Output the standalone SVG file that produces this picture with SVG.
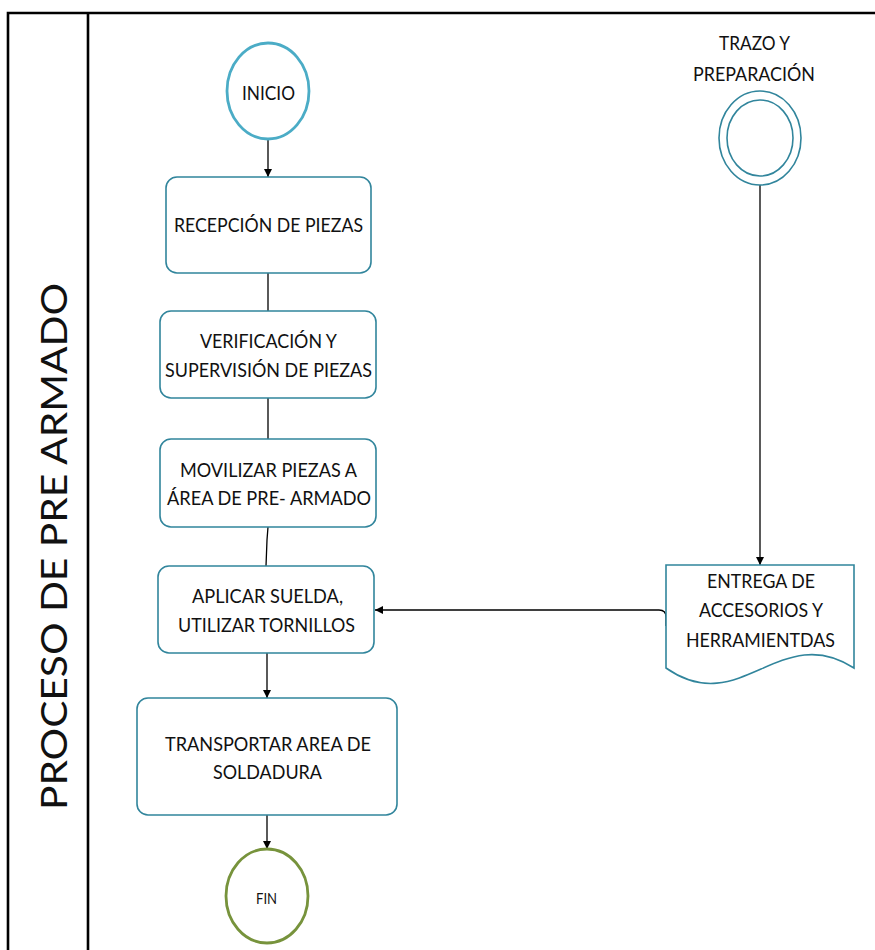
<svg xmlns="http://www.w3.org/2000/svg" width="875" height="950" viewBox="0 0 875 950">
  <style>
    .frame { fill: none; stroke: #000; stroke-width: 2.6; }
    .proc { fill: #fff; stroke: #31859C; stroke-width: 1.6; }
    .lbl { font-family: Lato, "Open Sans", "Liberation Sans", sans-serif; font-size: 20px; fill: #111; text-anchor: middle; }
    .title { font-family: Lato, "Open Sans", "Liberation Sans", sans-serif; font-size: 37px; fill: #111; text-anchor: middle; }
    .conn { fill: none; stroke: #000; stroke-width: 1.3; }
  </style>
  <defs>
    <marker id="arrow" viewBox="0 0 10 10" refX="10" refY="5" markerWidth="8" markerHeight="8" markerUnits="userSpaceOnUse" orient="auto">
      <path d="M0,0 L10,5 L0,10 Z" fill="#000"/>
    </marker>
  </defs>

  <rect width="875" height="950" fill="#fff"/>

  <!-- Swimlane frame -->
  <g id="lane">
    <path class="frame" d="M8,950 V13 H875"/>
    <line class="frame" x1="88" y1="13" x2="88" y2="950"/>
    <text class="title" transform="translate(67,546.5) rotate(-90)" textLength="527" lengthAdjust="spacingAndGlyphs">PROCESO DE PRE ARMADO</text>
  </g>

  <!-- Connectors -->
  <g id="connectors">
    <line class="conn" x1="268" y1="139" x2="268" y2="177" marker-end="url(#arrow)"/>
    <line class="conn" x1="268" y1="273" x2="268" y2="311"/>
    <line class="conn" x1="268" y1="398" x2="268" y2="439"/>
    <path class="conn" d="M268,527 L267,540 L266,566"/>
    <line class="conn" x1="267" y1="653" x2="267" y2="698" marker-end="url(#arrow)"/>
    <line class="conn" x1="267" y1="815" x2="267" y2="849" marker-end="url(#arrow)"/>
    <line class="conn" x1="760" y1="185" x2="760" y2="565" marker-end="url(#arrow)"/>
    <path class="conn" d="M666,626 V617 Q666,610 659,610 H375" marker-end="url(#arrow)"/>
  </g>

  <!-- Nodes -->
  <g id="inicio">
    <ellipse cx="268" cy="91" rx="41" ry="48" fill="#fff" stroke="#4BACC6" stroke-width="2.8"/>
    <text class="lbl" x="268.5" y="100" textLength="53" lengthAdjust="spacingAndGlyphs">INICIO</text>
  </g>

  <g id="recepcion">
    <rect class="proc" x="166" y="177" width="205" height="96" rx="11"/>
    <text class="lbl" x="268.5" y="232" textLength="189" lengthAdjust="spacingAndGlyphs">RECEPCIÓN DE PIEZAS</text>
  </g>

  <g id="verificacion">
    <rect class="proc" x="160" y="311" width="216" height="87" rx="11"/>
    <text class="lbl" x="268.5" y="348" textLength="137" lengthAdjust="spacingAndGlyphs">VERIFICACIÓN Y</text>
    <text class="lbl" x="268.5" y="377" textLength="207" lengthAdjust="spacingAndGlyphs">SUPERVISIÓN DE PIEZAS</text>
  </g>

  <g id="movilizar">
    <rect class="proc" x="160" y="439" width="216" height="88" rx="11"/>
    <text class="lbl" x="268.5" y="477" textLength="177" lengthAdjust="spacingAndGlyphs">MOVILIZAR PIEZAS A</text>
    <text class="lbl" x="269" y="505" textLength="204" lengthAdjust="spacingAndGlyphs">ÁREA DE PRE- ARMADO</text>
  </g>

  <g id="aplicar">
    <rect class="proc" x="158" y="566" width="216" height="87" rx="11"/>
    <text class="lbl" x="267.5" y="603" textLength="151" lengthAdjust="spacingAndGlyphs">APLICAR SUELDA,</text>
    <text class="lbl" x="266.5" y="632" textLength="177" lengthAdjust="spacingAndGlyphs">UTILIZAR TORNILLOS</text>
  </g>

  <g id="transportar">
    <rect class="proc" x="137" y="698" width="260" height="117" rx="11"/>
    <text class="lbl" x="268" y="751" textLength="206" lengthAdjust="spacingAndGlyphs">TRANSPORTAR AREA DE</text>
    <text class="lbl" x="267.5" y="779" textLength="109" lengthAdjust="spacingAndGlyphs">SOLDADURA</text>
  </g>

  <g id="fin">
    <ellipse cx="267" cy="896" rx="41" ry="47" fill="#fff" stroke="#77933C" stroke-width="2.8"/>
    <text class="lbl" x="266.5" y="904" style="font-size:16px" textLength="21" lengthAdjust="spacingAndGlyphs">FIN</text>
  </g>

  <g id="trazo">
    <text class="lbl" x="754.5" y="50" textLength="71" lengthAdjust="spacingAndGlyphs">TRAZO Y</text>
    <text class="lbl" x="754" y="81" textLength="122" lengthAdjust="spacingAndGlyphs">PREPARACIÓN</text>
    <ellipse cx="760" cy="138" rx="41" ry="47" fill="#fff" stroke="#31859C" stroke-width="1.6"/>
    <ellipse cx="760" cy="138" rx="33" ry="38" fill="none" stroke="#31859C" stroke-width="1.6"/>
  </g>

  <g id="entrega">
    <path d="M666,565 H854 V668 C780,620 740,720 666,668 Z" fill="#fff" stroke="#31859C" stroke-width="1.6"/>
    <text class="lbl" x="761" y="588" textLength="108" lengthAdjust="spacingAndGlyphs">ENTREGA DE</text>
    <text class="lbl" x="761" y="617" textLength="124" lengthAdjust="spacingAndGlyphs">ACCESORIOS Y</text>
    <text class="lbl" x="760.5" y="647" textLength="149" lengthAdjust="spacingAndGlyphs">HERRAMIENTDAS</text>
  </g>
</svg>
